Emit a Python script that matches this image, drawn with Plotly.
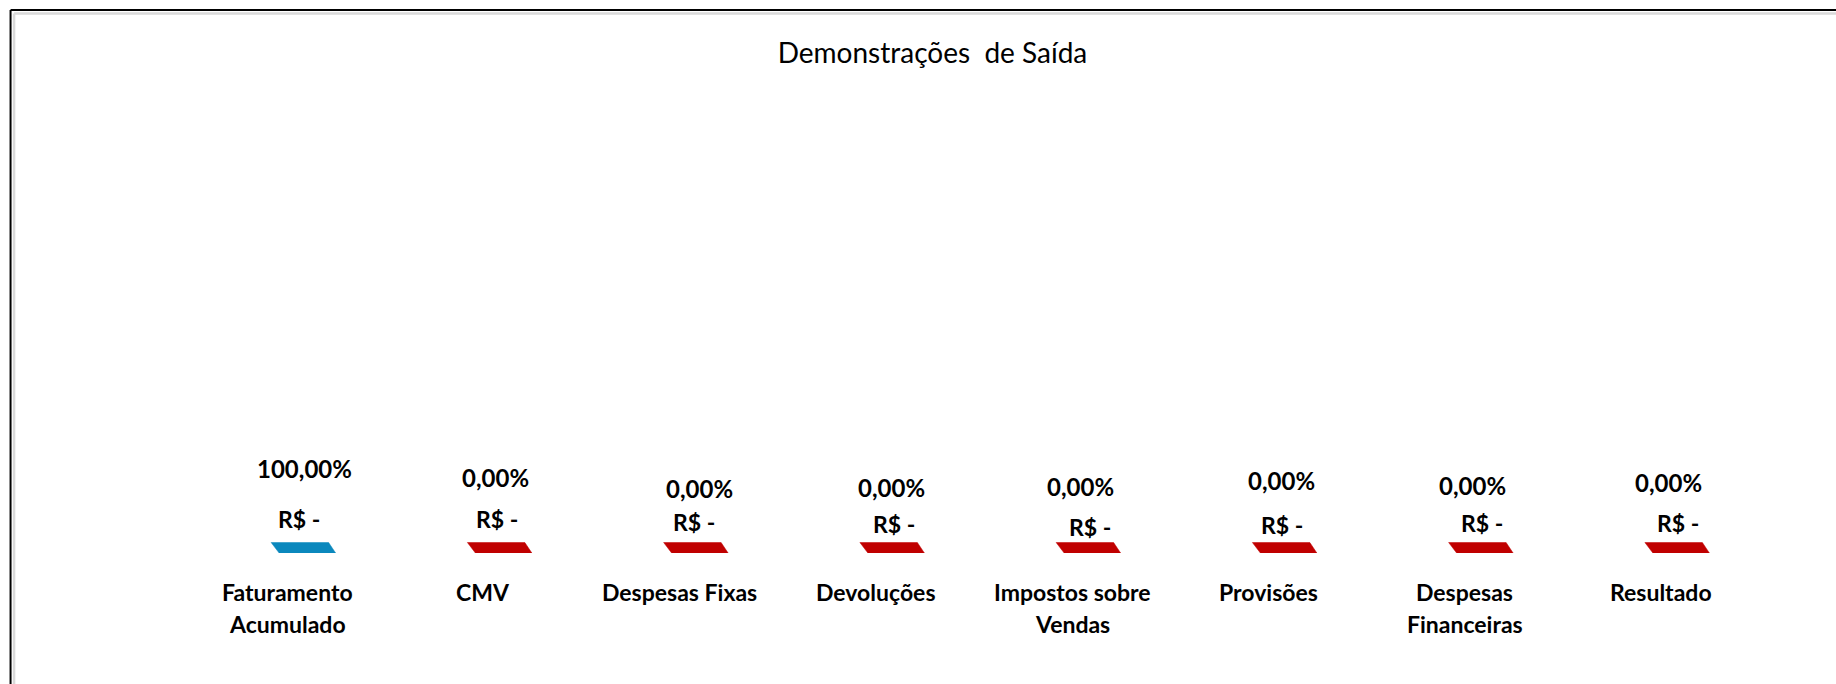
import plotly.graph_objects as go

# ---------------- data ----------------
categories = ["Faturamento\nAcumulado", "CMV", "Despesas Fixas", "Devoluções",
              "Impostos sobre\nVendas", "Provisões", "Despesas\nFinanceiras", "Resultado"]
valores_rs = [0, 0, 0, 0, 0, 0, 0, 0]          # R$ values (all zero -> "R$ -")
percentuais = [1.0, 0, 0, 0, 0, 0, 0, 0]       # share of revenue
title_text = "Demonstrações  de Saída"

# ---------------- style ----------------
BLUE = "#0B88BD"
RED = "#C00000"
bar_colors = [BLUE] + [RED] * 7
FONT = "Lato"

W, H = 1836, 684
L, R, T, B = 188.5, 77, 100, 130.5
plot_w = W - L - R
plot_h = H - T - B
n = len(categories)
cat_px = plot_w / n

# parallelogram (zero-height 3D column top face) geometry in pixels
bot_l, bot_r, top_l, top_r, depth_px = -8.0, 48.5, -16.0, 41.5, 10.5

# manual label offsets (pixels) as in the Excel chart
pct_dx = [17.3, 11.7, 19.8, 15.2, 8.2, 13.6, 8.1, 7.6]
pct_dy = [85, 75.5, 64.5, 65.5, 66.5, 72.5, 67.5, 71]
rs_dx = [11.4, 14.1, 14.8, 18.3, 18.2, 13.6, 17.3, 16.8]
rs_dy = [34.5, 34.5, 31.5, 29.5, 26.5, 28.5, 30.5, 30.5]
cat_line1_y = 592.5
cat_line_pitch = 31.5


def fmt_pct(p):
    return f"{p * 100:.2f}%".replace(".", ",")


def fmt_rs(v):
    if v == 0:
        return "R$ -"
    return "R$ " + f"{v:,.2f}".replace(",", "X").replace(".", ",").replace("X", ".")


fig = go.Figure()

dy = depth_px / plot_h
for i, (v, c) in enumerate(zip(valores_rs, bar_colors)):
    xs = [i + bot_l / cat_px, i + bot_r / cat_px, i + top_r / cat_px, i + top_l / cat_px, i + bot_l / cat_px]
    ys = [v, v, v + dy, v + dy, v]
    fig.add_trace(go.Scatter(x=xs, y=ys, fill="toself", fillcolor=c, mode="lines",
                             line=dict(color=c, width=0.5), hoverinfo="skip", showlegend=False))

annotations = []
for i in range(n):
    annotations.append(dict(x=i, y=valores_rs[i], xref="x", yref="y", text=fmt_pct(percentuais[i]),
                            showarrow=False, xanchor="center", yanchor="middle",
                            xshift=pct_dx[i], yshift=pct_dy[i],
                            font=dict(family=FONT, size=24, color="#000000", weight="bold")))
    annotations.append(dict(x=i, y=valores_rs[i], xref="x", yref="y", text=fmt_rs(valores_rs[i]),
                            showarrow=False, xanchor="center", yanchor="middle",
                            xshift=rs_dx[i], yshift=rs_dy[i],
                            font=dict(family=FONT, size=23, color="#000000", weight="bold")))
    for j, line in enumerate(categories[i].split("\n")):
        annotations.append(dict(x=i, y=0, xref="x", yref="paper", text=line,
                                showarrow=False, xanchor="center", yanchor="middle",
                                yshift=-(cat_line1_y - (H - B)) - j * cat_line_pitch,
                                font=dict(family=FONT, size=23, color="#000000", weight="bold")))


def px_x(px):
    return (px - L) / plot_w


def px_y(py):
    return (H - B - py) / plot_h


shapes = [
    dict(type="line", xref="paper", yref="paper", x0=px_x(10), x1=px_x(W + 20), y0=px_y(10), y1=px_y(10),
         line=dict(color="#000000", width=2)),
    dict(type="line", xref="paper", yref="paper", x0=px_x(10), x1=px_x(10), y0=px_y(10), y1=px_y(H + 20),
         line=dict(color="#000000", width=2)),
    dict(type="line", xref="paper", yref="paper", x0=px_x(13.5), x1=px_x(W + 20), y0=px_y(13.5), y1=px_y(13.5),
         line=dict(color="#D9D9D9", width=2.5)),
    dict(type="line", xref="paper", yref="paper", x0=px_x(13.5), x1=px_x(13.5), y0=px_y(13.5), y1=px_y(H + 20),
         line=dict(color="#D9D9D9", width=2.5)),
]

fig.update_layout(
    width=W, height=H,
    margin=dict(l=L, r=R, t=T, b=B, pad=0),
    paper_bgcolor="white", plot_bgcolor="white",
    title=dict(text=title_text, x=932.5 / W, xref="container", xanchor="center",
               y=1 - 53 / H, yref="container", yanchor="middle",
               font=dict(family=FONT, size=28, color="#000000")),
    xaxis=dict(range=[-0.5, n - 0.5], showgrid=False, zeroline=False, showline=False,
               showticklabels=False, ticks="", fixedrange=True),
    yaxis=dict(range=[0, 1], showgrid=False, zeroline=False, showline=False,
               showticklabels=False, ticks="", fixedrange=True),
    annotations=annotations,
    shapes=shapes,
    showlegend=False,
    hovermode=False,
)

fig.write_html("out.html", config={"displayModeBar": False},
               post_script="document.body.style.margin='0';document.body.style.overflow='hidden';")
